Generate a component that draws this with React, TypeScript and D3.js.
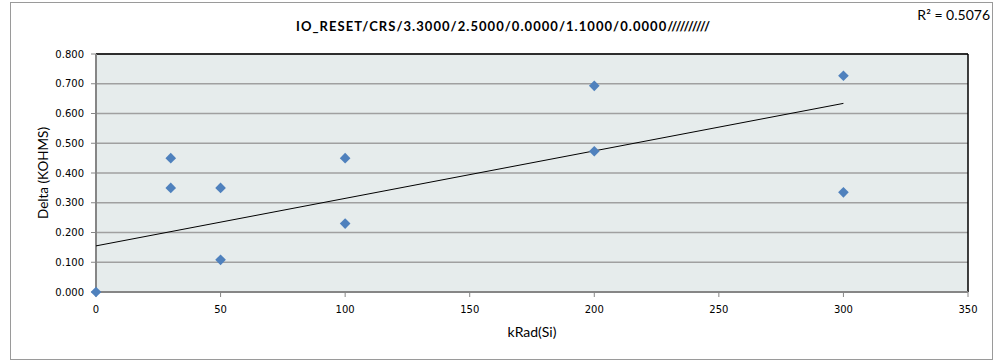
import React from "react";
import * as d3 from "d3";

const titleText = "IO_RESET/CRS/3.3000/2.5000/0.0000/1.1000/0.0000//////////";
const xLabel = "kRad(Si)";
const yLabel = "Delta (KOHMS)";
const r2Text = "R² = 0.5076";

const kradValues = [0, 30, 30, 50, 50, 100, 100, 200, 200, 300, 300];
const deltaValues = [0, 0.45, 0.35, 0.35, 0.108, 0.45, 0.23, 0.693, 0.473, 0.727, 0.335];

const xTicks = [0, 50, 100, 150, 200, 250, 300, 350];
const yTicks = [0, 0.1, 0.2, 0.3, 0.4, 0.5, 0.6, 0.7, 0.8];

// trendline endpoints
const trendX = [0, 300];
const trendY = [0.155, 0.634];

const W = 997;
const H = 361;
const L = 96, R = 968, T = 54, B = 292;

export default function App() {
  const x = d3.scaleLinear().domain([0, 350]).range([L, R]);
  const y = d3.scaleLinear().domain([0, 0.8]).range([B, T]);
  const fmt = d3.format(".3f");
  const line = d3.line<number>().x((d) => x(trendX[d])).y((d) => y(trendY[d]));
  const diamond = d3.symbol().type(d3.symbolDiamond2).size(72)();
  return (
    <svg
      width={W}
      height={H}
      style={{ position: "absolute", left: 0, top: 0, fontFamily: "Lato, 'Open Sans', sans-serif" }}
    >
      <rect x={0} y={0} width={W} height={H} fill="#fff" />
      <rect x={10.5} y={2.5} width={982} height={357} fill="#fff" stroke="#9a9a9a" strokeWidth={1} />
      <rect x={L} y={T} width={R - L} height={B - T} fill="#e6ecec" />
      {yTicks.map((t) => (
        <line key={"g" + t} x1={L} x2={R} y1={y(t)} y2={y(t)} stroke="#a0a0a0" strokeWidth={1.5} />
      ))}
      <line x1={L} x2={R} y1={T} y2={T} stroke="#000" strokeWidth={1.5} />
      <line x1={R} x2={R} y1={T} y2={B} stroke="#000" strokeWidth={1.5} />
      <line x1={L} x2={L} y1={T} y2={B + 1} stroke="#868686" strokeWidth={2} />
      <line x1={L - 1} x2={R} y1={B} y2={B} stroke="#868686" strokeWidth={2} />
      {yTicks.map((t) => (
        <g key={"y" + t}>
          <line x1={L - 5} x2={L} y1={y(t)} y2={y(t)} stroke="#868686" strokeWidth={1} />
          <text
            x={L - 12}
            y={y(t)}
            dy="0.35em"
            textAnchor="end"
            fontSize={10}
            fontFamily="'DejaVu Sans', sans-serif"
            fill="#000"
          >
            {fmt(t)}
          </text>
        </g>
      ))}
      {xTicks.map((t) => (
        <g key={"x" + t}>
          <line x1={x(t)} x2={x(t)} y1={B} y2={B + 5} stroke="#868686" strokeWidth={1} />
          <text
            x={x(t)}
            y={B + 17}
            dy="0.35em"
            textAnchor="middle"
            fontSize={10}
            fontFamily="'DejaVu Sans', sans-serif"
            fill="#000"
          >
            {t}
          </text>
        </g>
      ))}
      <path d={line([0, 1]) || ""} fill="none" stroke="#000" strokeWidth={1} />
      {kradValues.map((k, i) => (
        <path
          key={"p" + i}
          d={diamond || ""}
          transform={`translate(${x(k)},${y(deltaValues[i])})`}
          fill="#4f81bd"
        />
      ))}
      <text
        x={503}
        y={26}
        dy="0.35em"
        textAnchor="middle"
        fontSize={13}
        fontWeight="bold"
        fill="#000"
        textLength={414}
        lengthAdjust="spacing"
      >
        {titleText}
      </text>
      <text x={(L + R) / 2} y={332} dy="0.35em" textAnchor="middle" fontSize={14} fill="#000">
        {xLabel}
      </text>
      <text
        transform={`translate(43,${(T + B) / 2}) rotate(-90)`}
        dy="0.35em"
        textAnchor="middle"
        fontSize={13.5}
        fill="#000"
      >
        {yLabel}
      </text>
      <text x={990} y={15} dy="0.35em" textAnchor="end" fontSize={14} fill="#000">
        {r2Text}
      </text>
    </svg>
  );
}
